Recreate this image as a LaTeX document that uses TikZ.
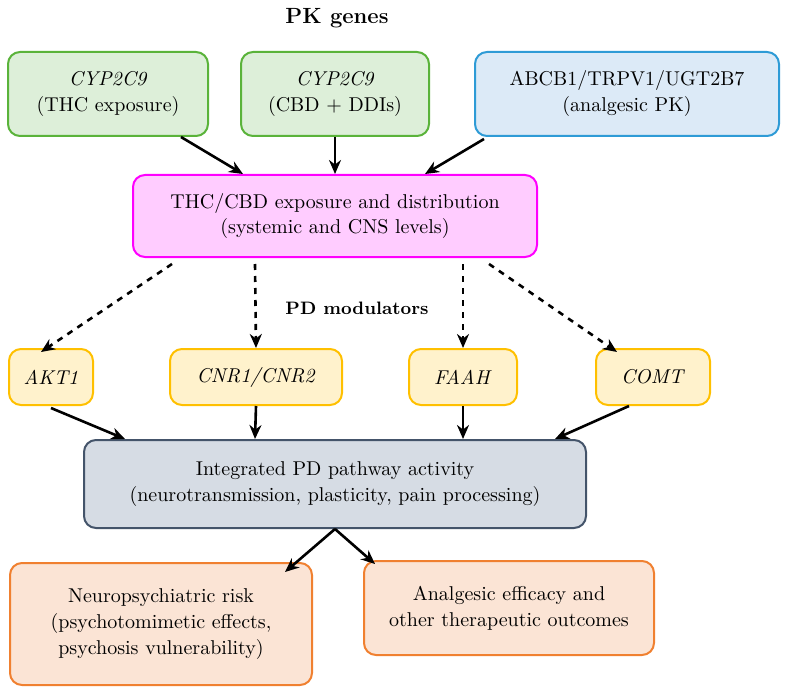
\documentclass[tikz,border=0pt]{standalone}
\usetikzlibrary{arrows.meta}
\definecolor{GreenFill}{HTML}{DDEFD9}
\definecolor{GreenLine}{HTML}{5AB33A}
\definecolor{BlueFill}{HTML}{DCEAF7}
\definecolor{BlueLine}{HTML}{2E9BD6}
\definecolor{PinkFill}{HTML}{FFCCFF}
\definecolor{PinkLine}{HTML}{FF00FF}
\definecolor{YellowFill}{HTML}{FFF2CC}
\definecolor{YellowLine}{HTML}{FFC000}
\definecolor{GreyFill}{HTML}{D6DCE4}
\definecolor{GreyLine}{HTML}{44546A}
\definecolor{PeachFill}{HTML}{FBE4D5}
\definecolor{PeachLine}{HTML}{F08030}
\tikzset{
  box/.style={draw, line width=1pt, rounded corners=6pt, align=center, inner sep=0pt,
    font=\fontsize{10}{13}\selectfont},
  flow/.style={line width=1.3pt, -{Stealth[length=7pt,width=6pt]}},
}
\begin{document}
\begin{tikzpicture}[x=0.5pt,y=-0.5pt]
            \useasboundingbox (0,0) rectangle (786,695);
            %% PK genes
            \node[font=\fontsize{11}{13}\selectfont\bfseries] (pk) at (337,18) {PK genes};
            \node[box, fill=GreenFill, draw=GreenLine, minimum width=100pt, minimum height=42pt] (cyp1) at (108,94) {\textit{CYP2C9}\\(THC exposure)};
            \node[box, fill=GreenFill, draw=GreenLine, minimum width=94pt, minimum height=42pt] (cyp2) at (335,94) {\textit{CYP2C9}\\(CBD + DDIs)};
            \node[box, fill=BlueFill, draw=BlueLine, minimum width=152pt, minimum height=42pt] (abc) at (627,94) {ABCB1/TRPV1/UGT2B7\\(analgesic PK)};
            %% exposure
            \node[box, fill=PinkFill, draw=PinkLine, minimum width=202pt, minimum height=41pt] (expo) at (335,216) {THC/CBD exposure and distribution\\(systemic and CNS levels)};
            %% PD modulators
            \node[font=\fontsize{9}{11}\selectfont\bfseries] (pd) at (357,308) {PD modulators};
            \node[box, fill=YellowFill, draw=YellowLine, minimum width=42pt, minimum height=28pt] (akt) at (51,377) {\textit{AKT1}};
            \node[box, fill=YellowFill, draw=YellowLine, minimum width=86pt, minimum height=28pt] (cnr) at (256,377) {\textit{CNR1/CNR2}};
            \node[box, fill=YellowFill, draw=YellowLine, minimum width=54pt, minimum height=28pt] (faah) at (463,377) {\textit{FAAH}};
            \node[box, fill=YellowFill, draw=YellowLine, minimum width=57pt, minimum height=28pt] (comt) at (653,377) {\textit{COMT}};
            %% integrated
            \node[box, fill=GreyFill, draw=GreyLine, minimum width=251pt, minimum height=44pt] (integ) at (335,484) {Integrated PD pathway activity\\(neurotransmission, plasticity, pain processing)};
            %% outcomes
            \node[box, fill=PeachFill, draw=PeachLine, minimum width=151pt, minimum height=61pt] (risk) at (161,624) {Neuropsychiatric risk\\(psychotomimetic effects,\\psychosis vulnerability)};
            \node[box, fill=PeachFill, draw=PeachLine, minimum width=145pt, minimum height=47pt] (eff) at (509,608) {Analgesic efficacy and\\other therapeutic outcomes};
            %% arrows
            \draw[flow] ([xshift=-14pt]cyp1.south east) to ([xshift=-46pt]expo.north);
            \draw[flow] (cyp2.south) to (expo.north);
            \draw[flow] ([xshift=5pt,yshift=-1pt]abc.south west) to ([xshift=45pt]expo.north);
            \draw[flow, dashed] ([xshift=20pt,yshift=-3pt]expo.south west) to ([xshift=-5pt,yshift=-2pt]akt.north);
            \draw[flow, dashed] ([xshift=-40pt,yshift=-3pt]expo.south) to (cnr.north);
            \draw[flow, dashed] ([xshift=64pt,yshift=-3pt]expo.south) to (faah.north);
            \draw[flow, dashed] ([xshift=77pt,yshift=-3pt]expo.south) to ([xshift=-18pt,yshift=-2pt]comt.north);
            \draw[flow] ([yshift=-1pt]akt.south) to ([xshift=-105pt]integ.north);
            \draw[flow] (cnr.south) to ([xshift=-40pt]integ.north);
            \draw[flow] (faah.south) to ([xshift=64pt]integ.north);
            \draw[flow] ([xshift=-12pt]comt.south) to ([xshift=110pt]integ.north);
            \draw[flow] (integ.south) to ([xshift=-25pt,yshift=-5pt]integ.south |- risk.north);
            \draw[flow] (integ.south) to ([xshift=20pt,yshift=-2pt]integ.south |- eff.north);
\end{tikzpicture}
\end{document}
